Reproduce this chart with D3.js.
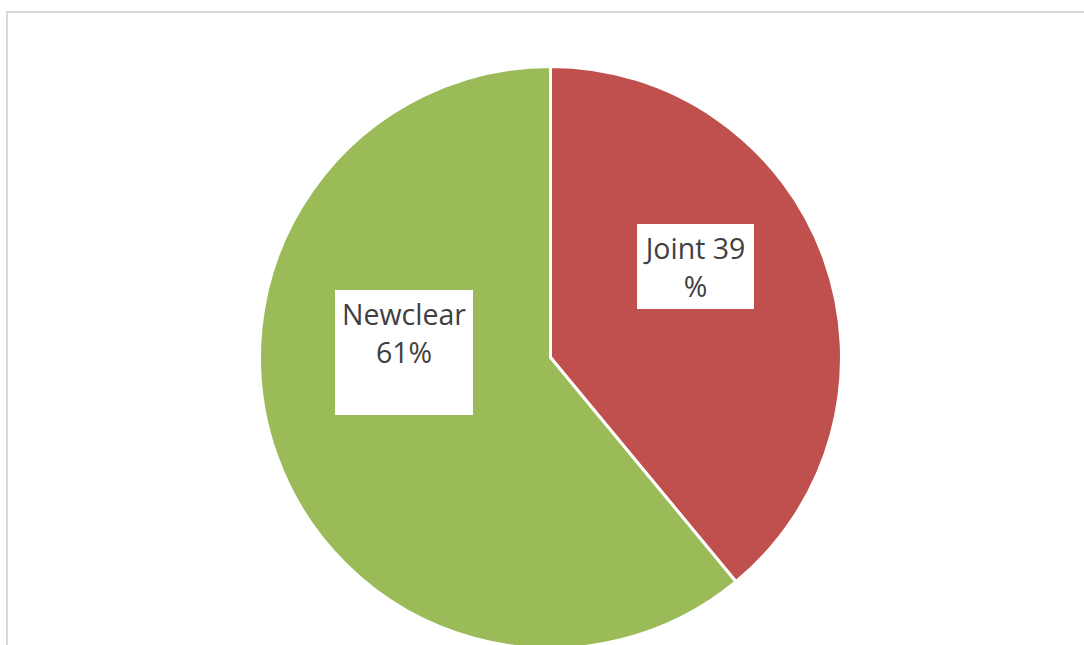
<!DOCTYPE html>
<html><head><meta charset="utf-8">
<script src="https://cdn.jsdelivr.net/npm/d3@7"></script>
<style>html,body{margin:0;padding:0;background:#fff;overflow:hidden}</style>
</head><body>
<svg id="c" width="1084" height="645"></svg>
<script>
const categories = ["Joint", "Newclear"];
const values = [39, 61];
const labelLines = [["Joint 39", "%"], ["Newclear", "61%"]];
const colors = ["#C0504D", "#9BBB59"];

const svg = d3.select("#c");
svg.append("rect").attr("x", 7).attr("y", 12).attr("width", 1100).attr("height", 700)
  .attr("fill", "#fff").attr("stroke", "#d9d9d9").attr("stroke-width", 2);

const cx = 550.5, cy = 357.5, r = 291;
const pie = d3.pie().sort(null).value(d => d)(values);
const arc = d3.arc().innerRadius(0).outerRadius(r);
const g = svg.append("g").attr("transform", `translate(${cx},${cy})`);
g.selectAll("path").data(pie).join("path")
  .attr("d", arc).attr("fill", (d, i) => colors[i])
  .attr("stroke", "#fff").attr("stroke-width", 3).attr("stroke-linejoin", "round");

const boxes = [
  {x: 637, y: 224, w: 117, h: 85},
  {x: 335, y: 290, w: 138, h: 125}
];
const lg = svg.append("g");
boxes.forEach((b, i) => {
  lg.append("rect").attr("x", b.x).attr("y", b.y).attr("width", b.w).attr("height", b.h).attr("fill", "#fff");
  const t = lg.append("text").attr("text-anchor", "middle")
    .attr("font-family", "Open Sans, sans-serif").attr("font-size", 28.5).attr("fill", "#404040");
  labelLines[i].forEach((ln, j) => {
    t.append("tspan").attr("x", b.x + b.w / 2).attr("y", b.y + 35 + j * 38).text(ln);
  });
});
</script>
</body></html>
